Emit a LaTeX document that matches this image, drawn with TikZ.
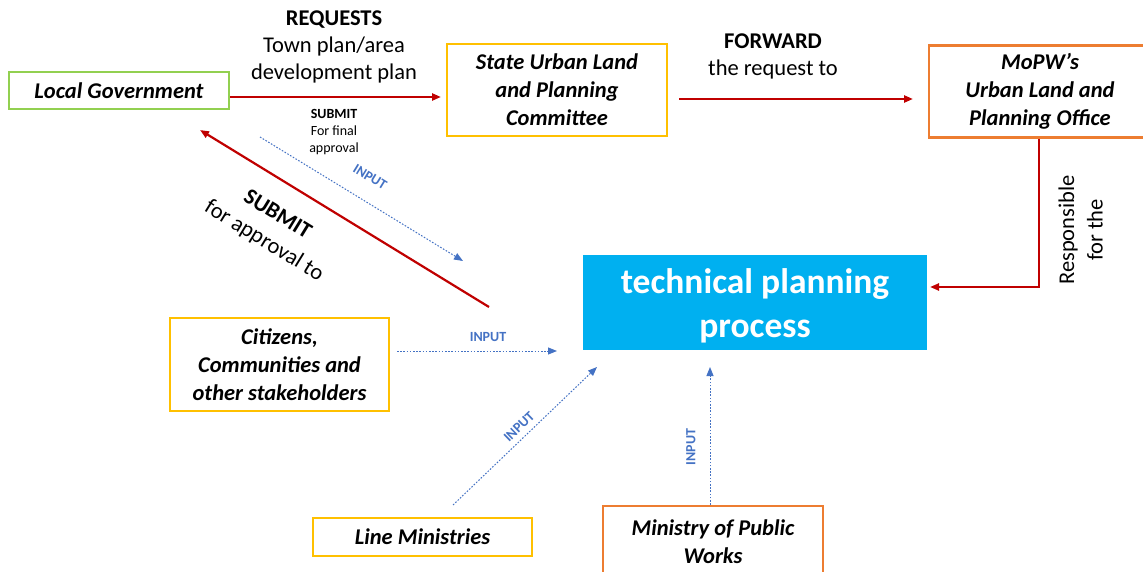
\documentclass[tikz,border=0pt]{standalone}
\usepackage{fontspec}
\setmainfont{Carlito}
\usetikzlibrary{arrows.meta}
\definecolor{lgreen}{HTML}{92D050}
\definecolor{gold}{HTML}{FFC000}
\definecolor{orng}{HTML}{ED7D31}
\definecolor{sky}{HTML}{00B0F0}
\definecolor{dred}{HTML}{C00000}
\definecolor{iblue}{HTML}{4472C4}
\tikzset{
  box/.style={draw, line width=2.6pt, align=center, inner sep=2pt,
    font=\fontsize{22.5}{28}\selectfont\bfseries\itshape},
  redarrow/.style={draw=dred, line width=2.2pt, -{Triangle[length=9pt,width=7pt]}},
  inarrow/.style={draw=iblue, line width=1pt, dash pattern=on 1.6pt off 1.6pt, -{Triangle[length=9pt,width=7pt]}},
  inlabel/.style={text=iblue, font=\fontsize{14}{15}\selectfont\bfseries, inner sep=1pt},
  biglabel/.style={align=center, inner sep=1pt, font=\fontsize{22.5}{27}\selectfont},
}
\begin{document}
\begin{tikzpicture}[x=1pt,y=-1pt]
\clip (0,0) rectangle (1143,572);
\fill[white] (0,0) rectangle (1143,572);

\node[box, draw=lgreen, minimum width=220pt, minimum height=37pt] (lg) at (119,90.5) {Local Government};
\node[box, draw=gold, minimum width=220pt, minimum height=92pt] (sul) at (557,90) {State Urban Land\\and Planning\\Committee};
\node[box, draw=orng, minimum width=222pt, minimum height=92pt] (mopw) at (1040,91.5) {MoPW’s\\Urban Land and\\Planning Office};
\fill[sky] (583,255) rectangle (927,350);
\node[align=center, text=white, font=\fontsize{35.5}{44}\selectfont\bfseries] (tpp) at (755,306) {technical planning\\process};
\coordinate (tppE) at (927,287);
\node[box, draw=gold, minimum width=219pt, minimum height=93pt] (cit) at (279.5,364.5) {Citizens,\\Communities and\\other stakeholders};
\node[box, draw=gold, minimum width=219pt, minimum height=38pt] (lm) at (422.5,537) {Line Ministries};
\node[box, draw=orng, minimum width=220pt, minimum height=72pt] (mpw) at (713,542) {Ministry of Public\\Works};

% red arrows
\coordinate (a1) at (441,97);
\draw[redarrow] (lg.east |- a1) -- (a1);
\coordinate (b0) at (679,99);
\coordinate (b1) at (913,99);
\draw[redarrow] (b0) -- (b1);
\coordinate (c1) at (930,287);
\draw[redarrow] (mopw.south -| 1039,0) -- (1039,287) -- (c1);
\coordinate (s0) at (489,307);
\coordinate (s1) at (200,130);
\draw[redarrow] (s0) -- (s1);

% blue input arrows
\coordinate (i0) at (260,137);
\coordinate (i1) at (463,261);
\draw[inarrow] (i0) -- (i1);
\coordinate (j0) at (397,351);
\coordinate (j1) at (557,351);
\draw[inarrow] (j0) -- (j1);
\coordinate (k0) at (453,505);
\coordinate (k1) at (597,367);
\draw[inarrow] (k0) -- (k1);
\coordinate (m1) at (710,367);
\draw[inarrow] (mpw.north -| m1) -- (m1);

% labels
\node[biglabel] (req) at (334,47) {\textbf{REQUESTS}\\Town plan/area\\development plan};
\node[align=center, font=\fontsize{14}{17}\selectfont] (sub1) at (334,132) {\textbf{SUBMIT}\\For final\\approval};
\node[biglabel] (fwd) at (773,56) {\textbf{FORWARD}\\the request to};
\node[biglabel, rotate=90] (resp1) at (1068,230) {Responsible};
\node[biglabel, rotate=90] (resp2) at (1095,230) {for the};
\node[biglabel, rotate=-31.5, font=\fontsize{22.5}{27}\selectfont\bfseries] (sub2) at (278,214) {SUBMIT};
\node[biglabel, rotate=-31.5] (sub3) at (264,241) {for approval to};

\node[inlabel, rotate=-31.5] (in1) at (370,177) {INPUT};
\node[inlabel] (in2) at (488,337) {INPUT};
\node[inlabel, rotate=44] (in3) at (519,427) {INPUT};
\node[inlabel, rotate=90] (in4) at (691,447) {INPUT};
\end{tikzpicture}
\end{document}
